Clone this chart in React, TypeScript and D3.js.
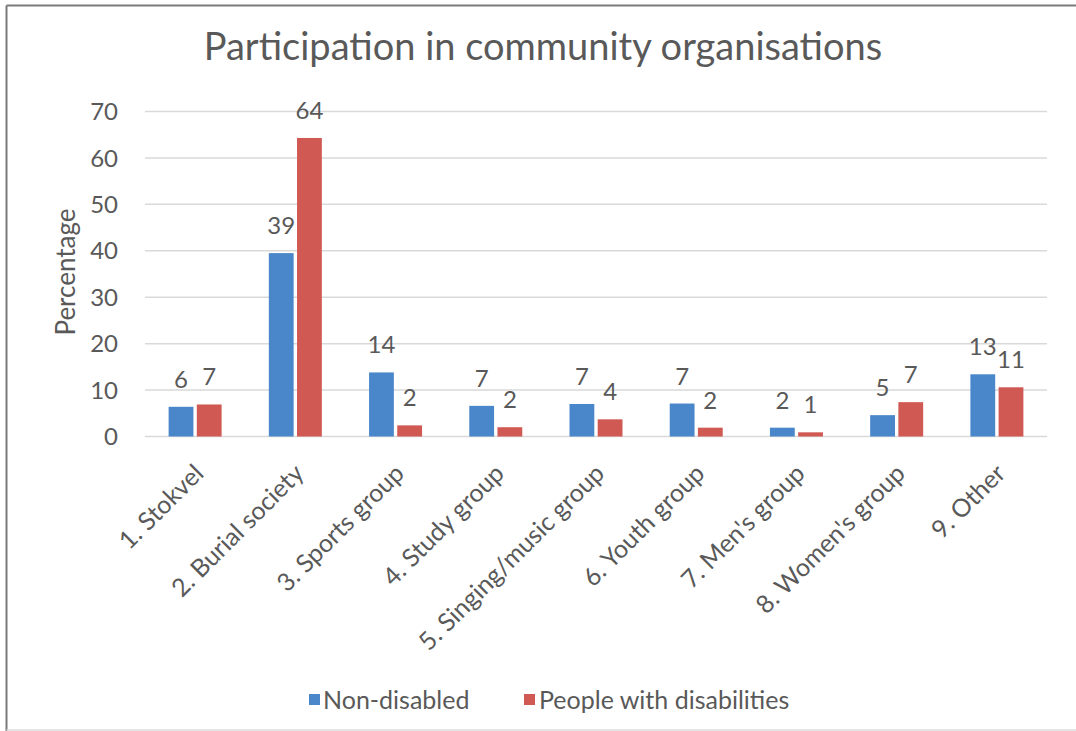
import React from "react";
import * as d3 from "d3";

const categories = [
  "1. Stokvel",
  "2. Burial society",
  "3. Sports group",
  "4. Study group",
  "5. Singing/music group",
  "6. Youth group",
  "7. Men's group",
  "8. Women's group",
  "9. Other",
];
const seriesNames = ["Non-disabled", "People with disabilities"];
const nonDisabled = [6.4, 39.5, 13.8, 6.6, 7.0, 7.1, 1.9, 4.6, 13.4];
const withDisabilities = [6.9, 64.3, 2.4, 2.0, 3.7, 1.9, 0.9, 7.4, 10.6];
const nonDisabledLabels = [6, 39, 14, 7, 7, 7, 2, 5, 13];
const withDisabilitiesLabels = [7, 64, 2, 2, 4, 2, 1, 7, 11];
const yTicks = [0, 10, 20, 30, 40, 50, 60, 70];
const colors = ["#4a87ca", "#d05a53"];

const W = 1076;
const H = 731;
const FONT = "Lato, 'Open Sans', sans-serif";
const TEXT = "#595959";

export default function App() {
  const x = d3.scaleBand<string>().domain(categories).range([145, 1047]).padding(0);
  const y = d3.scaleLinear().domain([0, 70]).range([436.5, 111.5]);
  const inner = d3.scaleBand<string>().domain(seriesNames).range([-26.5, 26.5]).paddingInner(0.12);
  const series = [
    { name: seriesNames[0], values: nonDisabled, labels: nonDisabledLabels, color: colors[0] },
    { name: seriesNames[1], values: withDisabilities, labels: withDisabilitiesLabels, color: colors[1] },
  ];

  return (
    <svg
      width={W}
      height={H}
      style={{ position: "absolute", left: 0, top: 0, background: "#fff" }}
      fontFamily={FONT}
    >
      <rect x={0} y={0} width={W} height={H} fill="#fff" />
      {/* frame */}
      <line x1={6.5} y1={5.5} x2={W} y2={5.5} stroke="#7a7a7a" strokeWidth={2} />
      <line x1={6.5} y1={5.5} x2={6.5} y2={H} stroke="#7a7a7a" strokeWidth={2} />
      <line x1={6.5} y1={730} x2={W} y2={730} stroke="#dcdcdc" strokeWidth={1.5} />

      <text x={543} y={60} textAnchor="middle" fontSize={38} fill={TEXT}>
        Participation in community organisations
      </text>

      {/* grid */}
      {yTicks.map((t) => (
        <g key={t}>
          <line x1={145} x2={1047} y1={y(t)} y2={y(t)} stroke="#d9d9d9" strokeWidth={1.5} />
          <text x={118} y={y(t)} dy="0.36em" textAnchor="end" fontSize={24} fill={TEXT}>
            {t}
          </text>
        </g>
      ))}

      <text
        transform={`translate(75,272) rotate(-90)`}
        textAnchor="middle"
        fontSize={26}
        fill={TEXT}
      >
        Percentage
      </text>

      {/* bars */}
      {series.map((s) => (
        <g key={s.name}>
          {categories.map((c, i) => {
            const cx = (x(c) as number) + x.bandwidth() / 2;
            const bx = cx + (inner(s.name) as number);
            const top = y(s.values[i]);
            return (
              <g key={c}>
                <rect x={bx} y={top} width={inner.bandwidth()} height={y(0) - top} fill={s.color} />
                <text
                  x={bx + inner.bandwidth() / 2}
                  y={top - 19}
                  textAnchor="middle"
                  fontSize={24}
                  fill={TEXT}
                >
                  {s.labels[i]}
                </text>
              </g>
            );
          })}
        </g>
      ))}

      {/* x labels */}
      {categories.map((c) => {
        const cx = (x(c) as number) + x.bandwidth() / 2;
        return (
          <text
            key={c}
            transform={`translate(${cx + 10},475) rotate(-45)`}
            textAnchor="end"
            fontSize={25}
            fill={TEXT}
          >
            {c}
          </text>
        );
      })}

      {/* legend */}
      <rect x={309} y={694} width={11} height={11} fill={colors[0]} />
      <text x={323} y={709} fontSize={25} fill={TEXT}>
        {seriesNames[0]}
      </text>
      <rect x={524} y={694} width={11} height={11} fill={colors[1]} />
      <text x={539} y={709} fontSize={25} fill={TEXT}>
        {seriesNames[1]}
      </text>
    </svg>
  );
}
